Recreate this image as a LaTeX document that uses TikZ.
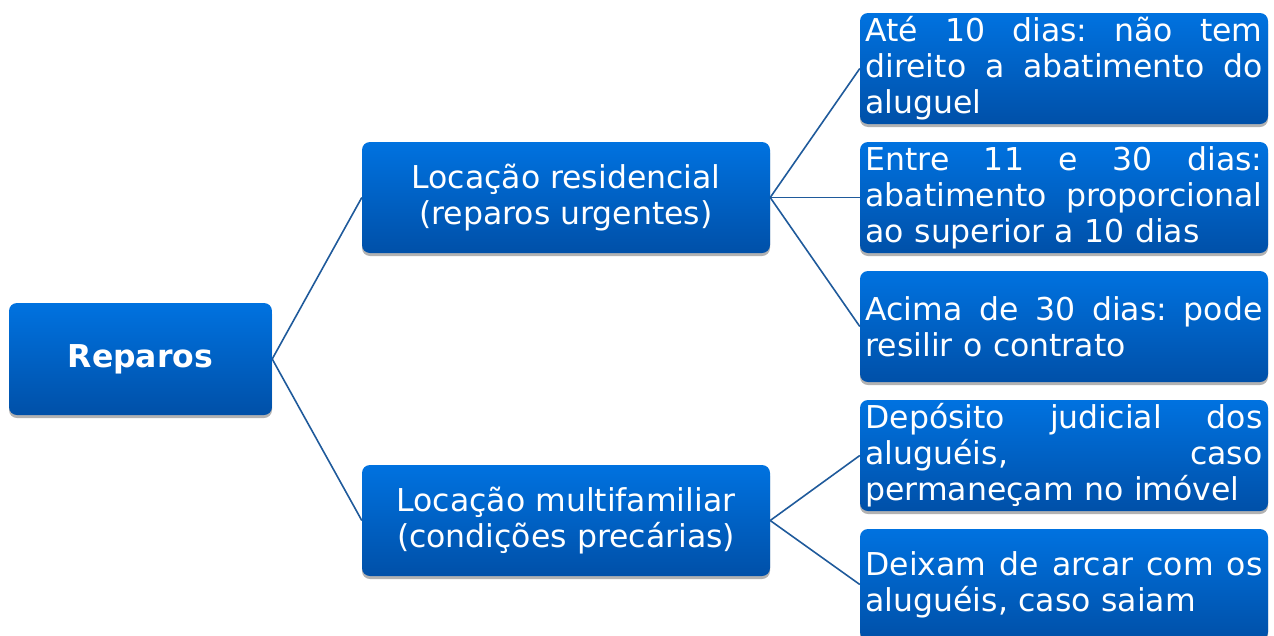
\documentclass[tikz,border=0pt]{standalone}
\usepackage{fontspec}
\setmainfont{DejaVu Sans}
\usetikzlibrary{shadows}
\definecolor{boxtop}{RGB}{0,114,224}
\definecolor{boxbot}{RGB}{0,80,168}
\definecolor{linkc}{RGB}{31,90,155}
\newcommand\jl[1]{\leavevmode\hbox to 397pt{#1}}
\begin{document}
\begin{tikzpicture}[x=1pt,y=-1pt,
  box/.style={rectangle, rounded corners=8pt, top color=boxtop, bottom color=boxbot, text=white,
    font=\fontsize{31.5}{36}\selectfont,
    drop shadow={shadow xshift=0pt, shadow yshift=-3pt, opacity=0.3, fill=black},
    inner sep=0pt, minimum height=111pt},
  midbox/.style={box, minimum width=408pt, align=center},
  leafbox/.style={box, minimum width=408pt, text width=397pt, align=left},
  link/.style={draw=linkc, line width=1.6pt}]
\useasboundingbox (0,0) rectangle (1274,635);
\node[box, minimum width=263pt, minimum height=112pt, font=\fontsize{31.5}{36}\selectfont\bfseries] (rep) at (140.5,359) {Reparos};
\node[midbox] (res) at (566,197.5) {Locação residencial\\(reparos urgentes)};
\node[midbox] (mul) at (566,520.5) {Locação multifamiliar\\(condições precárias)};
\node[leafbox] (a1) at (1064,68.5) {\jl{Até\hfill 10\hfill dias:\hfill não\hfill tem}\\\jl{direito\hfill a\hfill abatimento\hfill do}\\aluguel};
\node[leafbox] (a2) at (1064,197.5) {\jl{Entre\hfill 11\hfill e\hfill 30\hfill dias:}\\\jl{abatimento\hfill proporcional}\\ao superior a 10 dias};
\node[leafbox] (a3) at (1064,326.5) {\jl{Acima\hfill de\hfill 30\hfill dias:\hfill pode}\\resilir o contrato};
\node[leafbox] (b1) at (1064,455.5) {\jl{Depósito\hfill judicial\hfill dos}\\\jl{aluguéis,\hfill caso}\\permaneçam no imóvel};
\node[leafbox] (b2) at (1064,584.5) {\jl{Deixam\hfill de\hfill arcar\hfill com\hfill os}\\aluguéis, caso saiam};
\draw[link] (rep.east) -- (res.west);
\draw[link] (rep.east) -- (mul.west);
\draw[link] (res.east) -- (a1.west);
\draw[link] (res.east) -- (a2.west);
\draw[link] (res.east) -- (a3.west);
\draw[link] (mul.east) -- (b1.west);
\draw[link] (mul.east) -- (b2.west);
\end{tikzpicture}
\end{document}
